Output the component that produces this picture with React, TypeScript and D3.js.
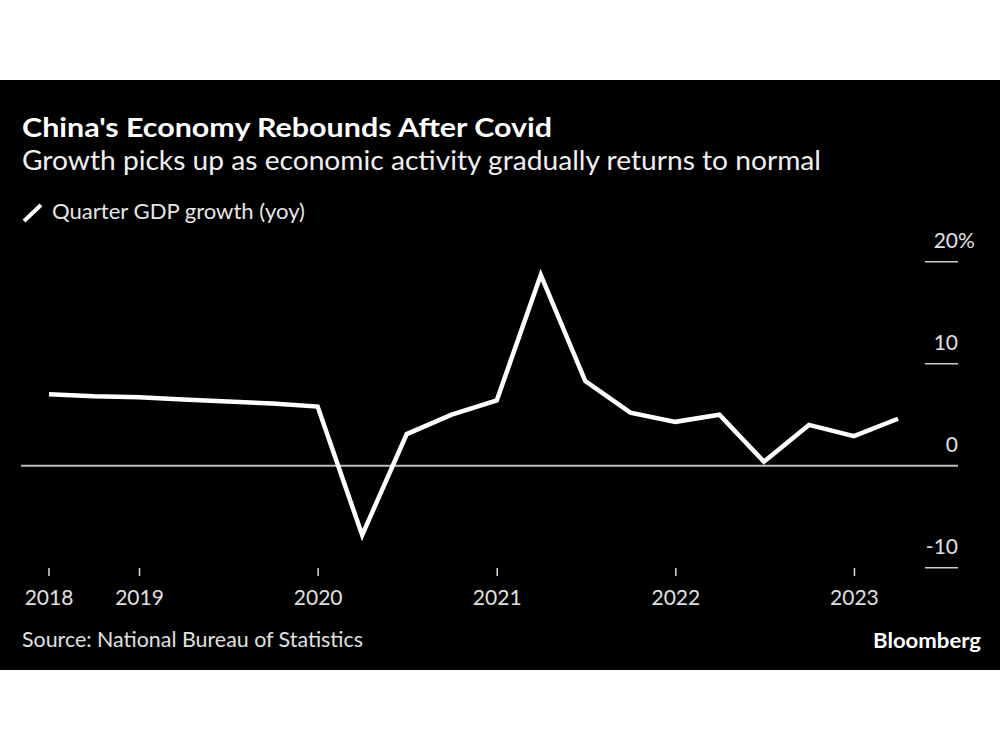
import React from "react";
import * as d3 from "d3";

const quarterDates = [
  "2018-06-30", "2018-09-30", "2018-12-31",
  "2019-03-31", "2019-06-30", "2019-09-30", "2019-12-31",
  "2020-03-31", "2020-06-30", "2020-09-30", "2020-12-31",
  "2021-03-31", "2021-06-30", "2021-09-30", "2021-12-31",
  "2022-03-31", "2022-06-30", "2022-09-30", "2022-12-31",
  "2023-03-31",
];
const gdpGrowth = [
  7.0, 6.8, 6.7,
  6.5, 6.3, 6.1, 5.8,
  -6.8, 3.1, 5.0, 6.4,
  18.7, 8.3, 5.2, 4.3,
  5.0, 0.4, 4.0, 2.9,
  4.6,
];
const xTickDates = ["2018-06-30", "2019-01-01", "2020-01-01", "2021-01-01", "2022-01-01", "2023-01-01"];
const xTickLabels = ["2018", "2019", "2020", "2021", "2022", "2023"];
const yTicks = [-10, 0, 10, 20];

const title = "China's Economy Rebounds After Covid";
const subtitle = "Growth picks up as economic activity gradually returns to normal";
const legendLabel = "Quarter GDP growth (yoy)";
const source = "Source: National Bureau of Statistics";

const FONT = "Lato, 'Noto Sans', sans-serif";

export default function App() {
  const parse = d3.utcParse("%Y-%m-%d");
  const dates = quarterDates.map((d) => parse(d) as Date);
  const data = dates.map((d, i) => ({ date: d, value: gdpGrowth[i] }));

  const x = d3.scaleUtc().domain([dates[0], dates[dates.length - 1]]).range([49, 898]);
  const y = d3.scaleLinear().domain([-10, 20]).range([567.7, 261.7]);

  const line = d3
    .line<{ date: Date; value: number }>()
    .x((d) => x(d.date))
    .y((d) => y(d.value));

  return (
    <svg
      width={1000}
      height={750}
      style={{ position: "absolute", left: 0, top: 0, display: "block" }}
      fontFamily={FONT}
    >
      <rect x={0} y={0} width={1000} height={750} fill="#ffffff" />
      <rect x={0} y={80} width={1000} height={590} fill="#000000" />

      <text x={22} y={137} fill="#ffffff" fontSize={27} fontWeight={700} textLength={530} lengthAdjust="spacingAndGlyphs">
        {title}
      </text>
      <text x={22} y={170} fill="#f0f0f0" fontSize={26} textLength={799} lengthAdjust="spacingAndGlyphs">
        {subtitle}
      </text>

      <line x1={24} y1={221} x2={41} y2={205} stroke="#ffffff" strokeWidth={4} strokeLinecap="butt" />
      <text x={52} y={219} fill="#e6e6e6" fontSize={21} textLength={253} lengthAdjust="spacingAndGlyphs">
        {legendLabel}
      </text>

      {yTicks.map((t) => (
        <g key={t}>
          {t !== 0 && (
            <line x1={925} x2={958} y1={y(t)} y2={y(t)} stroke="#cccccc" strokeWidth={1.5} />
          )}
          <text x={958} y={y(t) - 14} fill="#e0e0e0" fontSize={21} textAnchor="end">
            {t}
          </text>
          {t === 20 && (
            <text x={958} y={y(t) - 14} fill="#e0e0e0" fontSize={21} textAnchor="start">
              %
            </text>
          )}
        </g>
      ))}
      <line x1={21} x2={958} y1={y(0)} y2={y(0)} stroke="#bdbdbd" strokeWidth={2} />

      {xTickDates.map((d, i) => {
        const xx = x(parse(d) as Date);
        return (
          <g key={d}>
            <line x1={xx} x2={xx} y1={568} y2={576} stroke="#dddddd" strokeWidth={1.5} />
            <text x={xx} y={605} fill="#e0e0e0" fontSize={21} textAnchor="middle">
              {xTickLabels[i]}
            </text>
          </g>
        );
      })}

      <path d={line(data) || ""} fill="none" stroke="#ffffff" strokeWidth={4.5} strokeLinejoin="miter" strokeLinecap="butt" />

      <text x={22} y={647} fill="#e0e0e0" fontSize={21} textLength={341} lengthAdjust="spacingAndGlyphs">
        {source}
      </text>
      <text x={981} y={648} fill="#ffffff" fontSize={20} fontWeight={700} textAnchor="end" textLength={108} lengthAdjust="spacingAndGlyphs">
        Bloomberg
      </text>
    </svg>
  );
}
